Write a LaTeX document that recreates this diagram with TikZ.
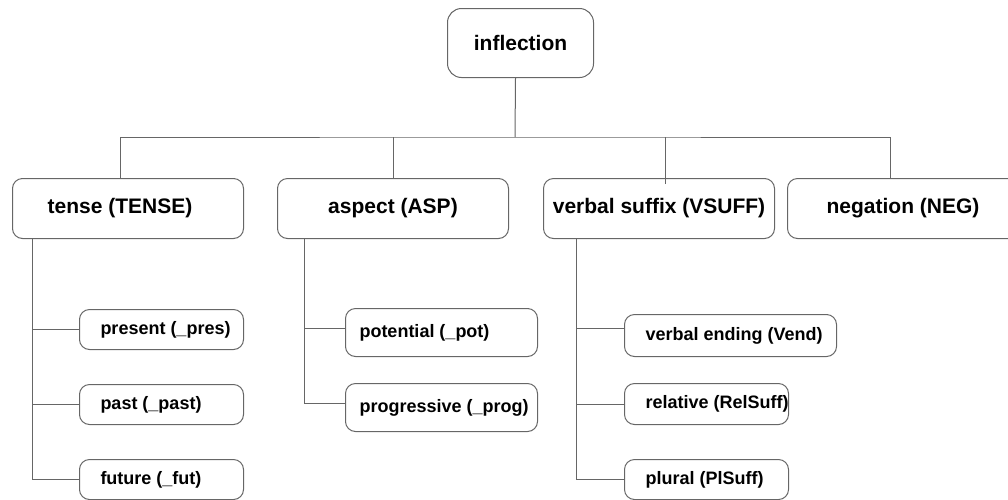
\documentclass[tikz,border=0pt]{standalone}
\usepackage{fontspec}
\setmainfont{Liberation Sans}
\begin{document}
\begin{tikzpicture}[x=1pt, y=-1pt,
    line/.style={draw=black!60, line width=1pt},
    rootbox/.style={draw=black!60, line width=1pt, rounded corners=14pt, anchor=north west,
        minimum width=146pt, minimum height=69pt, font=\fontsize{21}{25}\selectfont\bfseries},
    catbox/.style={draw=black!60, line width=1pt, rounded corners=10pt, anchor=north west,
        minimum width=231pt, minimum height=60pt, font=\fontsize{21}{25}\selectfont\bfseries},
    leafbox/.style 2 args={draw=black!60, line width=1pt, rounded corners=10pt, anchor=north west,
        inner xsep=0pt, font=\fontsize{18}{22}\selectfont\bfseries,
        execute at begin node={\hbox to #1\bgroup\hskip#2},
        execute at end node={\hss\egroup}}]
    \clip (0,0) rectangle (1008,499);

    % root and the four categories
    \node[rootbox] (root) at (447,8) {inflection};
    \node[catbox] (tense) at (12,178) {tense (TENSE)\hspace*{16pt}};
    \node[catbox] (aspect) at (277,178) {aspect (ASP)};
    \node[catbox] (vsuff) at (543,178) {verbal suffix (VSUFF)};
    \node[catbox] (neg) at (787,178) {negation (NEG)};

    % leaves
    \node[leafbox={164pt}{21pt}, minimum height=40pt] (present) at (79,309) {present (\_pres)};
    \node[leafbox={164pt}{21pt}, minimum height=40pt] (past) at (79,384) {past (\_past)};
    \node[leafbox={164pt}{21pt}, minimum height=40pt] (future) at (79,459) {future (\_fut)};
    \node[leafbox={192pt}{14pt}, minimum height=48pt] (potential) at (345,308) {potential (\_pot)};
    \node[leafbox={192pt}{14pt}, minimum height=48pt] (progressive) at (345,383) {progressive (\_prog)};
    \node[leafbox={212pt}{21pt}, minimum height=42pt] (vending) at (624,314) {verbal ending (Vend)};
    \node[leafbox={164pt}{21pt}, minimum height=41pt] (relative) at (624,383) {relative (RelSuff)};
    \node[leafbox={164pt}{21pt}, minimum height=40pt] (plural) at (624,459) {plural (PlSuff)};

    % bus from the root to the categories
    \coordinate (bus) at (515,137);
    \draw[line] ([xshift=-5pt]root.south) -- (bus);
    \draw[line] ([xshift=-7.5pt]tense.north) |- (bus) -| ([xshift=-12.5pt]neg.north);
    \draw[line] (aspect.north) -- (aspect.north |- bus);
    \draw[line] ([xshift=6.5pt,yshift=-6pt]vsuff.north) -- ([xshift=6.5pt]vsuff.north |- bus);

    % tense branches
    \coordinate (tt) at ([xshift=20pt]tense.south west);
    \draw[line] (tt) |- (future.west);
    \draw[line] (present.west) -- (present.west -| tt);
    \draw[line] (past.west) -- (past.west -| tt);

    % aspect branches
    \coordinate (at) at ([xshift=27pt]aspect.south west);
    \draw[line] (at) |- ([yshift=4pt]progressive.west);
    \draw[line] ([yshift=4pt]potential.west) -- ([yshift=4pt]potential.west -| at);

    % verbal suffix branches
    \coordinate (vt) at ([xshift=33pt]vsuff.south west);
    \draw[line] (vt) |- (plural.west);
    \draw[line] ([yshift=7pt]vending.west) -- ([yshift=7pt]vending.west -| vt);
    \draw[line] (relative.west) -- (relative.west -| vt);
\end{tikzpicture}
\end{document}
